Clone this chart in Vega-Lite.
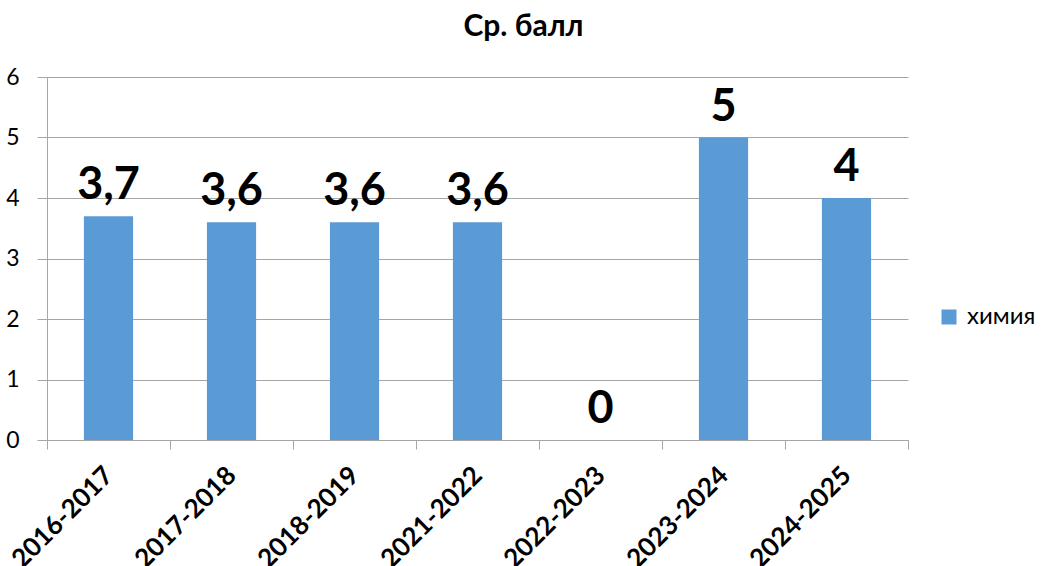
{
  "$schema": "https://vega.github.io/schema/vega-lite/v6.json",
  "autosize": {"type": "none"},
  "width": 861,
  "height": 363,
  "padding": {"left": 47, "top": 77, "right": 133, "bottom": 126},
  "background": "white",
  "title": {"text": "Ср. балл", "fontSize": 30, "fontWeight": "bold", "font": "Lato", "color": "#000000", "anchor": "middle", "dx": 46, "offset": 24},
  "data": {"values": [
    {"year": "2016-2017", "value": 3.7, "subject": "химия"},
    {"year": "2017-2018", "value": 3.6, "subject": "химия"},
    {"year": "2018-2019", "value": 3.6, "subject": "химия"},
    {"year": "2021-2022", "value": 3.6, "subject": "химия"},
    {"year": "2022-2023", "value": 0, "subject": "химия"},
    {"year": "2023-2024", "value": 5, "subject": "химия"},
    {"year": "2024-2025", "value": 4, "subject": "химия"}
  ]},
  "encoding": {
    "x": {"field": "year", "type": "nominal", "sort": null,
      "scale": {"paddingInner": 0, "paddingOuter": 0},
      "axis": {"title": null, "labelAngle": -45, "labelAlign": "right", "labelBaseline": "middle", "labelFontSize": 26, "labelFontWeight": "bold", "labelFont": "Lato", "labelColor": "#000000", "labelPadding": 22, "tickBand": "extent", "tickSize": 9, "tickColor": "#A6A6A6", "domainColor": "#A6A6A6", "grid": false}},
    "y": {"field": "value", "type": "quantitative",
      "scale": {"domain": [0, 6], "nice": false},
      "axis": {"title": null, "values": [0, 1, 2, 3, 4, 5, 6], "labelFontSize": 23, "labelFont": "Lato", "labelColor": "#000000", "labelPadding": 18, "tickSize": 10, "tickColor": "#A6A6A6", "gridColor": "#A6A6A6", "domainColor": "#A6A6A6"}}
  },
  "layer": [
    {"mark": {"type": "bar", "width": {"band": 0.4}},
     "encoding": {"color": {"field": "subject", "type": "nominal", "scale": {"range": ["#5B9BD5"]},
       "legend": {"title": null, "orient": "none", "legendX": 890, "legendY": 228, "symbolType": "square", "symbolSize": 225, "symbolStrokeWidth": 0, "labelFontSize": 24, "labelFont": "Lato", "labelColor": "#000000", "labelOffset": 6}}}},
    {"mark": {"type": "text", "baseline": "bottom", "dy": -8, "fontSize": 45, "fontWeight": "bold", "font": "Lato", "color": "#000000"},
     "encoding": {"text": {"field": "value", "type": "quantitative", "format": ".2~f"}}}
  ],
  "config": {
    "view": {"stroke": null},
    "locale": {"number": {"decimal": ",", "thousands": " ", "grouping": [3], "currency": ["", " ₽"]}}
  }
}
